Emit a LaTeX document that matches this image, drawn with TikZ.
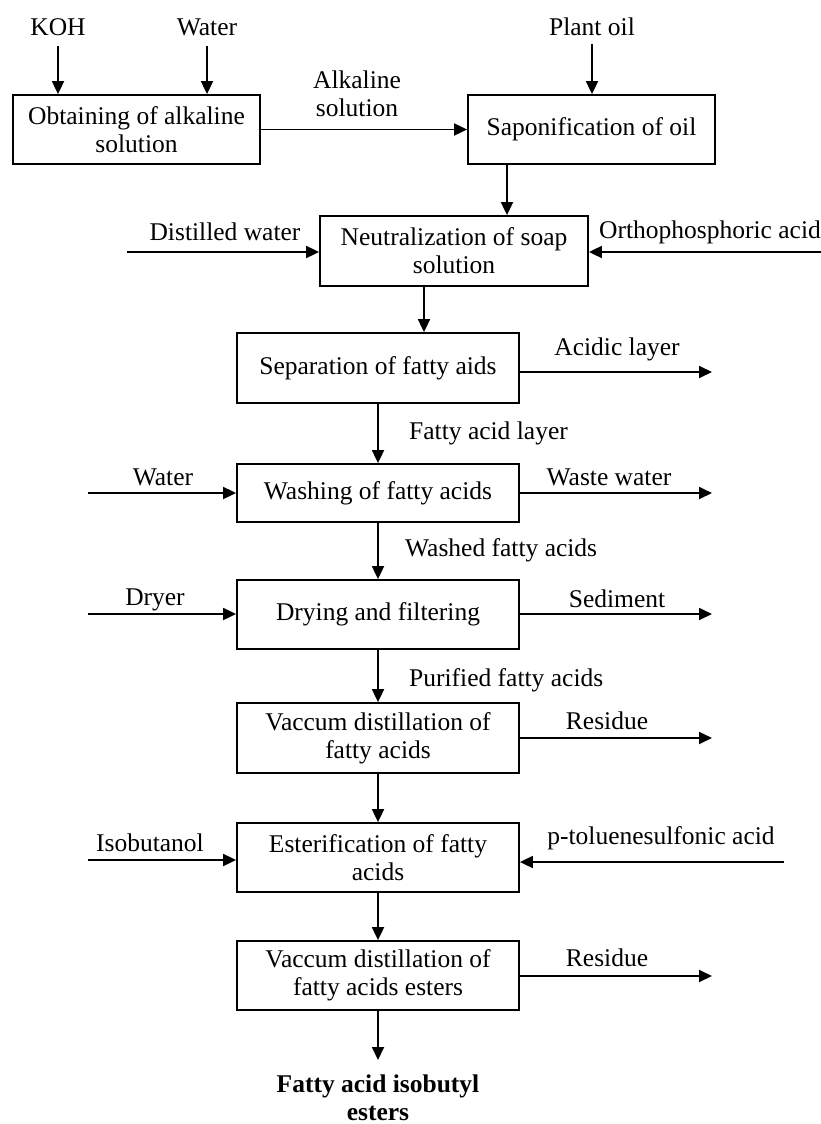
\documentclass[tikz,border=0pt]{standalone}
\usepackage{fontspec}
\setmainfont{Liberation Serif}
\usetikzlibrary{arrows.meta,calc}
\begin{document}
\begin{tikzpicture}[x=1pt,y=-1pt,
  font=\fontsize{25.5}{28}\selectfont,
  box/.style 2 args={draw,line width=1.8pt,minimum width=#1,minimum height=#2,align=center,inner sep=0pt},
  arr/.style={line width=1.8pt,-{Triangle[length=13pt,width=12pt]}},
  lbl/.style={inner sep=0pt,align=center}]
\useasboundingbox (0,0) rectangle (820,1124);
% boxes
\node[box={247pt}{69pt}] (b1) at (136.5,129.5) {Obtaining of alkaline\\solution};
\node[box={247pt}{69pt}] (b2) at (591.5,129.5) {Saponification of oil};
\node[box={268pt}{70pt}] (b3) at (454,251) {Neutralization of soap\\solution};
\node[box={282pt}{70pt}] (b4) at (378,368) {Separation of fatty aids};
\node[box={282pt}{58pt}] (b5) at (378,493) {Washing of fatty acids};
\node[box={282pt}{69pt}] (b6) at (378,614.5) {Drying and filtering};
\node[box={282pt}{70pt}] (b7) at (378,738) {Vaccum distillation of\\fatty acids};
\node[box={282pt}{69pt}] (b8) at (378,857.5) {Esterification of fatty\\acids};
\node[box={282pt}{69pt}] (b9) at (378,975.5) {Vaccum distillation of\\fatty acids esters};
\node[lbl,font=\fontsize{25.5}{28}\selectfont\bfseries] (out) at (378,1098) {Fatty acid isobutyl\\esters};
% labels
\node[lbl] (koh) at (58,27) {KOH};
\node[lbl] (wat1) at (207,27) {Water};
\node[lbl] (oil) at (592,27) {Plant oil};
\node[lbl] (alk) at (357,94) {Alkaline\\solution};
\node[lbl] (dwl) at (225,232) {Distilled water};
\node[lbl,anchor=west] (opl) at (599,232) {Orthophosphoric acid};
\node[lbl] (acl) at (617,349) {Acidic layer};
\node[lbl,anchor=west] (fal) at (409,433) {Fatty acid layer};
\node[lbl] (w2l) at (163,477) {Water};
\node[lbl] (wwl) at (609,477) {Waste water};
\node[lbl,anchor=west] (wfl) at (405,550) {Washed fatty acids};
\node[lbl] (dryl) at (155,600) {Dryer};
\node[lbl] (sedl) at (617,599) {Sediment};
\node[lbl,anchor=west] (pfl) at (409,680) {Purified fatty acids};
\node[lbl] (res1l) at (607,721) {Residue};
\node[lbl] (isol) at (150,843) {Isobutanol};
\node[lbl] (ptl) at (661,838) {p-toluenesulfonic acid};
\node[lbl] (res2l) at (607,958) {Residue};
% free ends
\coordinate (kohs) at (58,46);
\coordinate (wat1s) at (207,46);
\coordinate (oils) at (592,44);
\coordinate (c23) at (507,0);
\coordinate (c34) at (424,0);
\coordinate (dws) at (127,252);
\coordinate (ops) at (822,252);
\coordinate (ace) at (712,372);
\coordinate (w2s) at (88,493);
\coordinate (wwe) at (712,493);
\coordinate (drys) at (88,614);
\coordinate (sede) at (712,614);
\coordinate (res1e) at (712,738);
\coordinate (isos) at (88,860);
\coordinate (pts) at (784,862);
\coordinate (res2e) at (712,976);
\coordinate (oute) at (378,1060);
% connectors
\draw[arr] (kohs) -- (kohs |- b1.north);
\draw[arr] (wat1s) -- (wat1s |- b1.north);
\draw[arr] (oils) -- (oils |- b2.north);
\draw[arr] (b1.east) -- (b2.west);
\draw[arr] (b2.south -| c23) -- (b3.north -| c23);
\draw[arr] (b3.south -| c34) -- (b4.north -| c34);
\draw[arr] (dws) -- (dws -| b3.west);
\draw[arr] (ops) -- (ops -| b3.east);
\draw[arr] (ace -| b4.east) -- (ace);
\draw[arr] (b4.south) -- (b5.north);
\draw[arr] (w2s) -- (w2s -| b5.west);
\draw[arr] (wwe -| b5.east) -- (wwe);
\draw[arr] (b5.south) -- (b6.north);
\draw[arr] (drys) -- (drys -| b6.west);
\draw[arr] (sede -| b6.east) -- (sede);
\draw[arr] (b6.south) -- (b7.north);
\draw[arr] (res1e -| b7.east) -- (res1e);
\draw[arr] (b7.south) -- (b8.north);
\draw[arr] (isos) -- (isos -| b8.west);
\draw[arr] (pts) -- (pts -| b8.east);
\draw[arr] (b8.south) -- (b9.north);
\draw[arr] (res2e -| b9.east) -- (res2e);
\draw[arr] (b9.south) -- (oute);
\end{tikzpicture}
\end{document}
